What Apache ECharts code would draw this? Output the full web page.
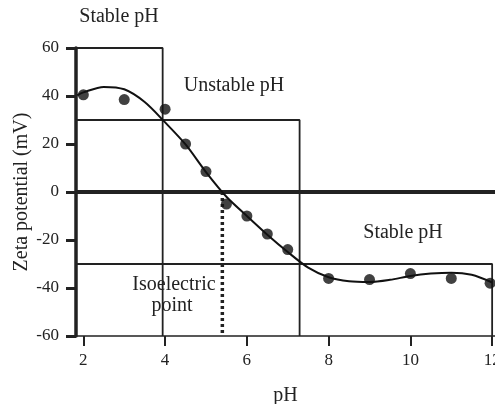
<!DOCTYPE html>
<html>
<head>
<meta charset="utf-8">
<script src="https://cdn.jsdelivr.net/npm/echarts@6/dist/echarts.min.js"></script>
<style>
  html, body { margin: 0; padding: 0; background: #fff; }
  #main { width: 495px; height: 404px; }
</style>
</head>
<body>
<div id="main"></div>
<script>
// measured points
const phPoints = [2, 3, 4, 4.5, 5, 5.5, 6, 6.5, 7, 8, 9, 10, 11, 11.95];
const zetaPoints = [40.5, 38.5, 34.5, 20, 8.5, -5, -10, -17.5, -24, -36, -36.5, -34, -36, -38];

// fitted curve
const phCurve = [1.85, 2, 2.5, 3, 3.5, 4, 4.5, 5, 5.5, 6, 6.5, 7, 7.5, 8, 8.5, 9, 9.5, 10, 10.5, 11, 11.5, 12];
const zetaCurve = [40.3, 41.5, 43.8, 42.8, 37.5, 29, 19.8, 8.3, -2, -10, -17.8, -25, -31.5, -35.5, -37.2, -37.5, -36.6, -35, -34, -33.6, -34.5, -37.7];

// region boxes and markers
const box1 = [[1.82, 60], [3.94, 60], [3.94, -60]];
const box2 = [[1.82, 30], [7.29, 30], [7.29, -60]];
const box3 = [[1.82, -30], [12, -30], [12, -60]];
const zeroLine = [[1.82, 0], [12.07, 0]];
const iepLine = [[5.4, 0], [5.4, -60]];

const xTicks = [2, 4, 6, 8, 10, 12];

const font = "'Liberation Serif', 'Times New Roman', serif";
const ink = '#222';

let myEcharts = echarts.init(document.getElementById('main'));

function pairs(xs, ys) {
  return xs.map((x, i) => [x, ys[i]]);
}

function plainLine(data, width, type) {
  return {
    type: 'line',
    data: data,
    symbol: 'none',
    silent: true,
    lineStyle: { color: ink, width: width, type: type || 'solid' },
    z: 2
  };
}

let option = {
  animation: false,
  backgroundColor: '#fff',
  grid: { left: 76, right: 0, top: 48, bottom: 68, outerBoundsMode: 'none' },
  xAxis: {
    type: 'value',
    min: 1.82,
    max: 12.07,
    name: 'pH',
    nameLocation: 'middle',
    nameGap: 50,
    nameTextStyle: { fontFamily: font, fontSize: 20, color: ink },
    axisLine: { onZero: false, lineStyle: { color: ink, width: 1.5 } },
    axisTick: { customValues: xTicks, length: 10, lineStyle: { color: ink, width: 2 } },
    axisLabel: { customValues: xTicks, fontFamily: font, fontSize: 17, color: ink, margin: 16 },
    splitLine: { show: false }
  },
  yAxis: {
    type: 'value',
    min: -60,
    max: 60,
    interval: 20,
    name: 'Zeta potential (mV)',
    nameLocation: 'middle',
    nameGap: 44,
    nameMoveOverlap: false,
    nameTextStyle: { fontFamily: font, fontSize: 20, color: ink },
    axisLine: { show: true, lineStyle: { color: ink, width: 3.5 } },
    axisTick: { show: true, length: 10, lineStyle: { color: ink, width: 3 } },
    axisLabel: { fontFamily: font, fontSize: 17, color: ink, margin: 17 },
    splitLine: { show: false }
  },
  graphic: [
    { type: 'text', x: 119, y: 17, style: { text: 'Stable pH', font: '20px ' + font, fill: ink, align: 'center', verticalAlign: 'middle' } },
    { type: 'text', x: 234, y: 86, style: { text: 'Unstable pH', font: '20px ' + font, fill: ink, align: 'center', verticalAlign: 'middle' } },
    { type: 'text', x: 403, y: 233, style: { text: 'Stable pH', font: '20px ' + font, fill: ink, align: 'center', verticalAlign: 'middle' } },
    { type: 'text', x: 174, y: 285, style: { text: 'Isoelectric', font: '20px ' + font, fill: ink, align: 'center', verticalAlign: 'middle' } },
    { type: 'text', x: 172, y: 306, style: { text: 'point', font: '20px ' + font, fill: ink, align: 'center', verticalAlign: 'middle' } }
  ],
  series: [
    plainLine(box1, 1.8),
    plainLine(box2, 1.8),
    plainLine(box3, 1.8),
    plainLine(zeroLine, 4),
    plainLine(iepLine, 3.5, [3, 3]),
    {
      type: 'line',
      data: pairs(phCurve, zetaCurve),
      smooth: 0.3,
      symbol: 'none',
      silent: true,
      lineStyle: { color: '#111', width: 2 },
      z: 3
    },
    {
      type: 'scatter',
      data: pairs(phPoints, zetaPoints),
      symbolSize: 11,
      itemStyle: { color: '#111' },
      z: 4
    }
  ]
};
myEcharts.setOption(option);
</script>
</body>
</html>
